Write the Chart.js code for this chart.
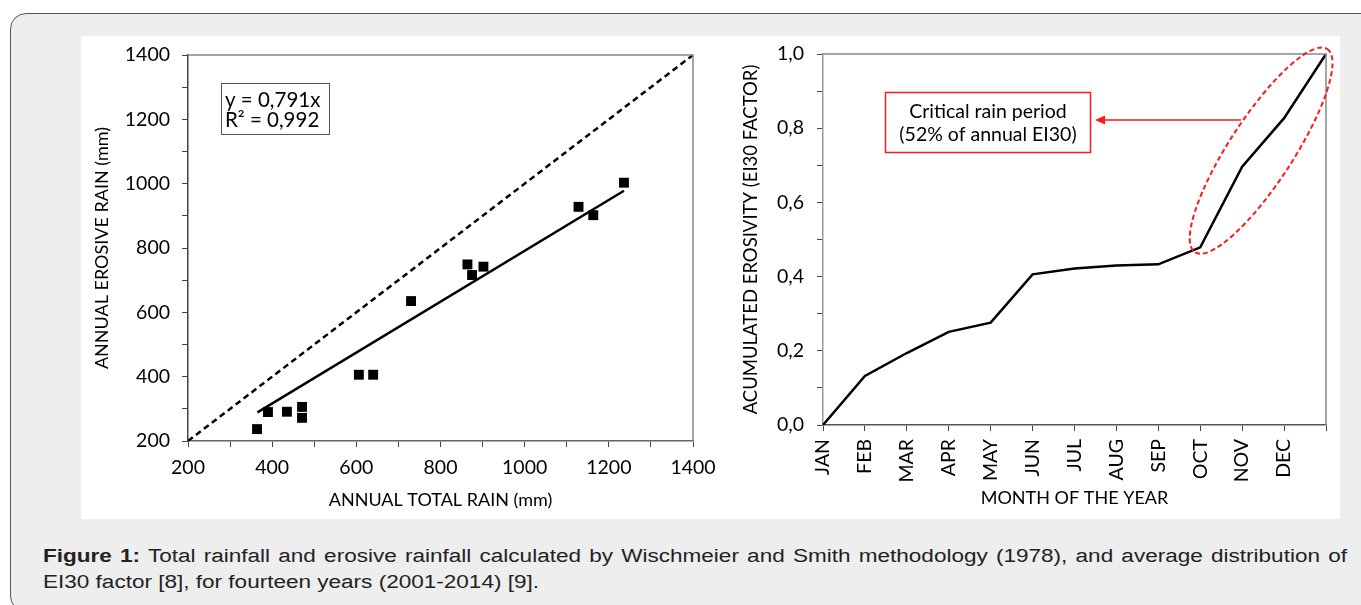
<!DOCTYPE html>
<html lang="en">
<head>
    <meta charset="UTF-8">
    <title>Figure 1 - rainfall and EI30 factor</title>
    <script src="https://cdn.jsdelivr.net/npm/chart.js"></script>
    <style>
        body { margin: 0; background: #fff; width: 1361px; height: 605px; overflow: hidden; position: relative; }
        .frame { position: absolute; left: 10px; top: 13px; width: 1400px; height: 597px;
                 border: 1.5px solid #555; border-radius: 16px; background: #eeeeee; }
        .panel { position: absolute; left: 81px; top: 36px; width: 1259px; height: 483px; background: #fff; }
        #rainChartBox { position: absolute; left: 81px; top: 36px; width: 640px; height: 483px; }
        #ei30ChartBox { position: absolute; left: 705px; top: 36px; width: 635px; height: 483px; }
        .caption { position: absolute; left: 43px; top: 543px; font-family: "Liberation Sans", Arial, sans-serif;
                   font-size: 18px; line-height: 26px; color: #222; }
        .caption div { white-space: nowrap; transform-origin: 0 0; }
        #cap1 { text-align: justify; text-align-last: justify; }
        #cap2 span { display: inline-block; }
    </style>
</head>
<body>
    <div class="frame"></div>
    <div class="panel"></div>
    <div id="ei30ChartBox"><canvas id="ei30Chart" width="635" height="483"></canvas></div>
    <div id="rainChartBox"><canvas id="rainChart" width="640" height="483"></canvas></div>
    <div class="caption">
        <div id="cap1"><b>Figure 1:</b> Total rainfall and erosive rainfall calculated by Wischmeier and Smith methodology (1978), and average distribution of</div>
        <div id="cap2"><span>EI30 factor [8], for fourteen years (2001-2014) [9].</span></div>
    </div>

    <script>
        // --- left chart data (mm), one point per year 2001-2014
        const totalRain   = [364, 390, 435, 471, 471, 606, 640, 730, 864, 875, 902, 1128, 1163, 1236];
        const erosiveRain = [237, 290, 291, 306, 272, 406, 406, 635, 749, 716, 742, 928, 902, 1003];
        // fitted line y = 0,791x (end points)
        const trendX = [365, 1236];
        const trendY = [289, 978];
        // 1:1 reference line
        const lineX = [200, 1400];
        const lineY = [200, 1400];

        // --- right chart data
        const months = ['JAN', 'FEB', 'MAR', 'APR', 'MAY', 'JUN', 'JUL', 'AUG', 'SEP', 'OCT', 'NOV', 'DEC', ''];
        const erosivity = [0, 0.132, 0.194, 0.251, 0.276, 0.406, 0.422, 0.430, 0.433, 0.479, 0.696, 0.827, 1.0];

        // caption: second line sets the horizontal stretch, first line is justified to the panel width
        const cap2Span = document.querySelector('#cap2 span');
        const capScale = 496 / cap2Span.getBoundingClientRect().width;
        const cap1 = document.getElementById('cap1');
        cap1.style.width = (1304 / capScale) + 'px';
        cap1.style.whiteSpace = 'normal';
        cap1.style.transform = 'scaleX(' + capScale + ')';
        document.getElementById('cap2').style.transform = 'scaleX(' + capScale + ')';

        Chart.defaults.font.family = 'Lato, "Open Sans", sans-serif';
        Chart.defaults.color = '#000';

        const toPoints = (xs, ys) => xs.map((x, i) => ({ x: x, y: ys[i] }));

        // keep the plot area where the figure has it: no extra room for overhanging labels
        const fixX = h => s => { s.height = h; s.paddingLeft = 0; s.paddingRight = 0; };
        const fixY = w => s => { s.width = w; s.paddingTop = 0; s.paddingBottom = 0; };

        // draws the top and right edges of the plot area
        const frameBorder = {
            id: 'frameBorder',
            afterDraw(chart) {
                const { ctx, chartArea: a } = chart;
                ctx.save();
                ctx.strokeStyle = '#888';
                ctx.lineWidth = 1.5;
                ctx.beginPath();
                ctx.moveTo(a.left, a.top);
                ctx.lineTo(a.right, a.top);
                ctx.lineTo(a.right, a.bottom);
                ctx.stroke();
                ctx.restore();
            }
        };

        const eqBox = {
            id: 'eqBox',
            afterDraw(chart) {
                const ctx = chart.ctx;
                ctx.save();
                ctx.strokeStyle = '#555';
                ctx.lineWidth = 1;
                ctx.strokeRect(140.5, 47.5, 108, 51);
                ctx.fillStyle = '#000';
                ctx.font = '20.5px Lato';
                ctx.textBaseline = 'middle';
                ctx.fillText('y = 0,791x', 144, 64);
                ctx.fillText('R\u00B2 = 0,992', 144, 84);
                ctx.restore();
            }
        };

        new Chart(document.getElementById('rainChart'), {
            type: 'scatter',
            data: {
                datasets: [
                    {
                        data: toPoints(totalRain, erosiveRain),
                        pointStyle: 'rect', pointRadius: 7, pointHoverRadius: 7,
                        backgroundColor: '#000', borderWidth: 0, order: 0
                    },
                    {
                        data: toPoints(trendX, trendY), showLine: true,
                        borderColor: '#000', borderWidth: 2.5, pointRadius: 0, order: 1
                    },
                    {
                        data: toPoints(lineX, lineY), showLine: true,
                        borderColor: '#000', borderWidth: 2.5, borderDash: [6, 4], pointRadius: 0, order: 2
                    }
                ]
            },
            options: {
                responsive: false,
                animation: false,
                layout: { padding: { left: 0, top: 19, right: 28, bottom: 0 } },
                plugins: { legend: { display: false }, tooltip: { enabled: false } },
                scales: {
                    x: {
                        type: 'linear', min: 200, max: 1400,
                        afterFit: fixX(78),
                        border: { color: '#666', width: 1.5 },
                        grid: { drawOnChartArea: false, tickLength: 6, color: '#444' },
                        ticks: {
                            stepSize: 100, autoSkip: false, maxRotation: 0, padding: 9,
                            font: { size: 19.5 },
                            callback: v => (v % 200 === 0 ? v : '')
                        },
                        title: { display: true, text: 'ANNUAL TOTAL RAIN (mm)', font: { size: 18 }, padding: { top: 0, bottom: 8 } }
                    },
                    y: {
                        type: 'linear', min: 200, max: 1400,
                        afterFit: fixY(107),
                        border: { color: '#444', width: 1.5 },
                        grid: { drawOnChartArea: false, tickLength: 6, color: '#444' },
                        ticks: {
                            stepSize: 100, autoSkip: false, padding: 12,
                            font: { size: 19.5 },
                            callback: v => (v % 200 === 0 ? v : '')
                        },
                        title: { display: true, text: 'ANNUAL EROSIVE RAIN (mm)', font: { size: 18 }, padding: { top: 10, bottom: 0 } }
                    }
                }
            },
            plugins: [frameBorder, eqBox]
        });

        // red callout: box, arrow and dashed ellipse round the Oct-Dec rise
        const criticalNote = {
            id: 'criticalNote',
            afterDraw(chart) {
                const ctx = chart.ctx;
                const xs = chart.scales.x, ys = chart.scales.y;
                ctx.save();
                // box
                ctx.strokeStyle = '#ff1a1a';
                ctx.lineWidth = 1.5;
                ctx.strokeRect(180.5, 56.5, 205, 60);
                ctx.fillStyle = '#000';
                ctx.font = '19.5px Lato';
                ctx.textAlign = 'center';
                ctx.textBaseline = 'middle';
                ctx.fillText('Critical rain period', 283, 76);
                ctx.fillText('(52% of annual EI30)', 283, 99);
                // arrow
                ctx.fillStyle = '#ff1a1a';
                ctx.lineWidth = 1.5;
                ctx.beginPath();
                ctx.moveTo(536, 84);
                ctx.lineTo(398, 84);
                ctx.stroke();
                ctx.beginPath();
                ctx.moveTo(390, 84);
                ctx.lineTo(400, 79.5);
                ctx.lineTo(400, 88.5);
                ctx.closePath();
                ctx.fill();
                // ellipse
                const i0 = 9, i1 = erosivity.length - 1;
                const x0 = xs.getPixelForValue(i0), y0 = ys.getPixelForValue(erosivity[i0]);
                const x1 = xs.getPixelForValue(i1), y1 = ys.getPixelForValue(erosivity[i1]);
                const cx = (x0 + x1) / 2 - 2, cy = (y0 + y1) / 2;
                const half = Math.hypot(x1 - x0, y1 - y0) / 2;
                const ang = Math.atan2(y1 - y0, x1 - x0);
                ctx.setLineDash([5, 3]);
                ctx.lineWidth = 2;
                ctx.beginPath();
                ctx.ellipse(cx, cy, half + 6, 32, ang, 0, Math.PI * 2);
                ctx.stroke();
                ctx.restore();
            }
        };

        new Chart(document.getElementById('ei30Chart'), {
            type: 'line',
            data: {
                labels: months,
                datasets: [{
                    data: erosivity,
                    borderColor: '#000', borderWidth: 2.5, pointRadius: 0, tension: 0, fill: false
                }]
            },
            options: {
                responsive: false,
                animation: false,
                layout: { padding: { left: 0, top: 18, right: 14, bottom: 0 } },
                plugins: { legend: { display: false }, tooltip: { enabled: false } },
                scales: {
                    x: {
                        type: 'category', offset: false,
                        afterFit: fixX(94),
                        border: { color: '#555', width: 1.5 },
                        grid: { drawOnChartArea: false, offset: false, tickLength: 6, color: '#444' },
                        ticks: { autoSkip: false, minRotation: 90, maxRotation: 90, padding: 8, font: { size: 19.5 } },
                        title: { display: true, text: 'MONTH OF THE YEAR', font: { size: 18 }, padding: { top: 0, bottom: 10 } }
                    },
                    y: {
                        min: 0, max: 1,
                        afterFit: fixY(118),
                        border: { color: '#999', width: 1.5 },
                        grid: { drawOnChartArea: false, tickLength: 6, color: '#444' },
                        ticks: {
                            stepSize: 0.1, autoSkip: false, padding: 13,
                            font: { size: 19.5 },
                            callback: v => (Math.round(v * 10) % 2 === 0 ? v.toFixed(1).replace('.', ',') : '')
                        },
                        title: { display: true, text: 'ACUMULATED EROSIVITY (EI30 FACTOR)', font: { size: 18.5 }, padding: { top: 35, bottom: 0 } }
                    }
                }
            },
            plugins: [frameBorder, criticalNote]
        });
    </script>
</body>
</html>
